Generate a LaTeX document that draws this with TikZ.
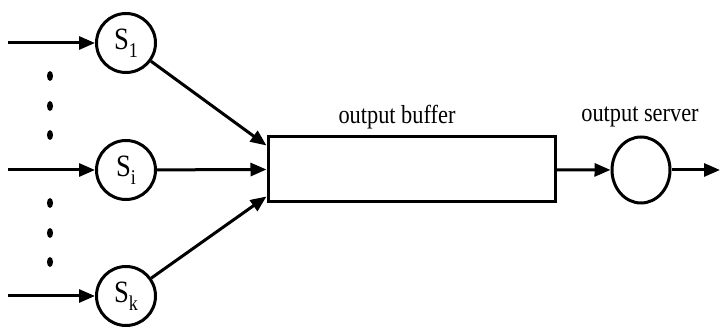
\documentclass[tikz,border=0pt]{standalone}
\usepackage{fontspec}
\setmainfont{Liberation Serif}
\newfontfamily\capfont[FakeStretch=0.86]{Liberation Serif}
\usetikzlibrary{arrows.meta, shapes.geometric}

\begin{document}
\begin{tikzpicture}[x=1pt, y=-1pt,
    line width=3pt,
    >={Triangle[length=16pt,width=13pt]},
    source/.style={circle,draw,minimum size=59pt,inner sep=0,font=\capfont\fontsize{31}{33}\selectfont},
    server/.style={ellipse,draw,minimum width=58pt,minimum height=66pt,inner sep=0},
    buffer/.style={rectangle,draw,minimum width=287pt,minimum height=65pt,inner sep=0},
    caption/.style={font=\capfont\fontsize{26}{28}\selectfont,inner sep=0}]

    \useasboundingbox (0,0) rectangle (720,328);

    % sources
    \node[source] (s1) at (126,43)  {S\raisebox{-0.55ex}{\fontsize{21}{21}\selectfont 1}};
    \node[source] (si) at (126,170) {S\raisebox{-0.55ex}{\fontsize{21}{21}\selectfont i}};
    \node[source] (sk) at (126,296) {S\raisebox{-0.55ex}{\fontsize{21}{21}\selectfont k}};

    \coordinate (in1) at (8,43);
    \coordinate (ini) at (8,170);
    \coordinate (ink) at (8,296);

    \draw[->] (in1) -- (s1);
    \draw[->] (ini) -- (si);
    \draw[->] (ink) -- (sk);

    % vertical dots
    \foreach \y in {76,106,135,203,233,262}
        \fill (50,\y) ellipse (3pt and 5pt);

    % buffer and server
    \node[buffer] (buf) at (411.5,169.5) {};
    \node[server] (srv) at (641,170) {};
    \coordinate (out) at (720,170);

    \node[caption] (lblbuf) at (397,117) {output buffer};
    \node[caption] (lblsrv) at (640,117) {output server};

    \draw[->] (s1) -- ([yshift=-10pt]buf.north west);
    \draw[->] (si) -- (buf.west);
    \draw[->] (sk) -- ([yshift=7pt]buf.south west);
    \draw[->] (buf) -- (srv);
    \draw[->] (srv) -- (out);
\end{tikzpicture}
\end{document}
